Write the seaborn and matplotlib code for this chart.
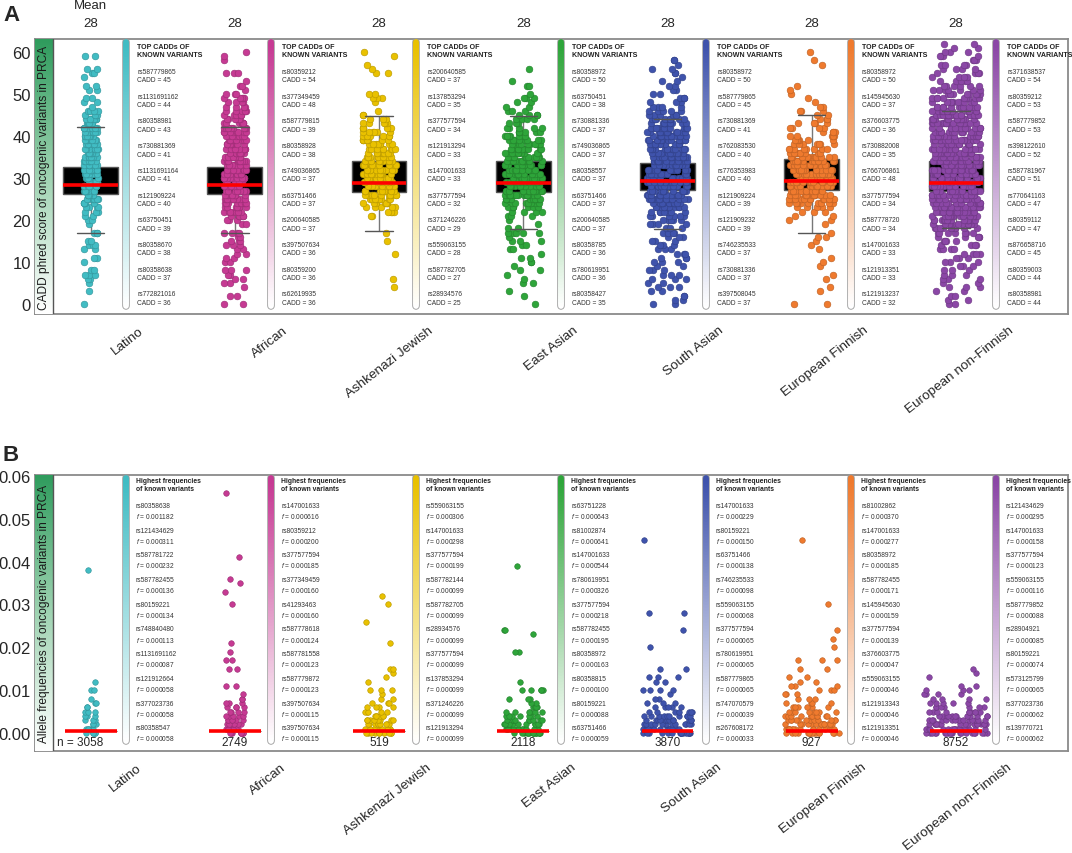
import numpy as np
import pandas as pd
import matplotlib.pyplot as plt
import seaborn as sns
from matplotlib.collections import LineCollection
from matplotlib.colors import to_rgb, LinearSegmentedColormap

# ---------------- data ----------------
populations = ["Latino", "African", "Ashkenazi Jewish", "East Asian",
               "South Asian", "European Finnish", "European non-Finnish"]
pop_colors = ["#41bcc3", "#c63a93", "#e9c100", "#2ea53a",
              "#3f53ac", "#ef7a2e", "#8b47a6"]
sample_sizes = [3058, 2749, 519, 2118, 3870, 927, 8752]
mean_cadd = [28, 28, 28, 28, 28, 28, 28]

# panel A: visible dots at each whole CADD score 0..62
cadd_levels = list(range(63))
latino_cadd = [1, 0, 0, 1, 0, 1, 2, 3, 2, 0, 1, 2, 0, 2, 3, 2, 0, 3, 0, 1,
               2, 2, 3, 4, 5, 7, 8, 8, 8, 8, 8, 8, 8, 7, 7, 7, 7, 7, 7, 7,
               7, 7, 7, 6, 6, 5, 4, 1, 2, 2, 0, 2, 2, 0, 1, 2, 2, 0, 0, 2,
               0, 0, 0]
african_cadd = [2, 0, 2, 0, 1, 2, 2, 2, 3, 0, 2, 2, 2, 2, 3, 3, 2, 4, 0, 2,
                3, 5, 7, 8, 9, 10, 10, 10, 10, 10, 10, 10, 10, 10, 9, 9, 9, 9, 9, 9,
                9, 8, 8, 8, 7, 6, 5, 4, 4, 5, 3, 1, 2, 1, 0, 3, 0, 0, 1, 1,
                1, 0, 0]
ashkenazi_cadd = [0, 0, 0, 0, 1, 0, 1, 0, 0, 0, 0, 0, 1, 0, 0, 1, 0, 1, 0, 0,
                  0, 2, 4, 5, 7, 9, 10, 10, 10, 10, 10, 10, 10, 10, 9, 8, 8, 8, 8, 7,
                  7, 6, 6, 5, 3, 2, 1, 0, 1, 3, 2, 0, 0, 0, 0, 2, 1, 1, 0, 1,
                  1, 0, 0]
east_asian_cadd = [1, 0, 1, 1, 0, 2, 1, 1, 2, 1, 2, 2, 1, 2, 2, 3, 1, 5, 2, 1,
                   1, 3, 4, 6, 9, 12, 13, 13, 13, 13, 13, 13, 13, 13, 12, 11, 10, 10, 9, 8,
                   7, 6, 5, 4, 4, 4, 3, 2, 2, 3, 1, 0, 2, 1, 0, 0, 1, 0, 0, 0,
                   0, 0, 0]
south_asian_cadd = [2, 2, 2, 2, 3, 2, 3, 3, 3, 2, 3, 3, 3, 3, 3, 3, 3, 4, 3, 4,
                    5, 6, 8, 11, 13, 14, 14, 14, 14, 14, 14, 14, 14, 14, 14, 14, 14, 14, 14, 13,
                    13, 12, 11, 10, 8, 6, 5, 4, 3, 3, 2, 2, 2, 2, 1, 2, 2, 1, 2, 0,
                    0, 0, 0]
finnish_cadd = [2, 0, 0, 1, 1, 0, 1, 1, 0, 1, 1, 1, 0, 1, 1, 1, 2, 1, 0, 1,
                2, 2, 3, 5, 9, 12, 14, 14, 14, 14, 14, 14, 14, 14, 13, 12, 10, 8, 7, 6,
                5, 4, 4, 4, 3, 2, 3, 2, 1, 1, 1, 1, 1, 0, 0, 0, 0, 1, 1, 0,
                1, 0, 0]
non_finnish_cadd = [2, 2, 2, 2, 3, 2, 3, 3, 3, 3, 3, 3, 4, 4, 4, 4, 5, 7, 10, 13,
                    16, 16, 16, 16, 16, 16, 16, 16, 16, 16, 16, 16, 16, 16, 16, 16, 16, 16, 16, 16,
                    16, 16, 16, 16, 16, 15, 14, 12, 10, 9, 8, 7, 6, 5, 4, 4, 4, 4, 3, 4,
                    3, 2, 2]

# box summaries: lower whisker, q1, mean line, q3, upper whisker
latino_box = [16.9, 26.2, 28.3, 32.6, 42.1]
african_box = [16.9, 26.2, 28.3, 32.6, 42.1]
ashkenazi_box = [17.4, 26.7, 28.8, 34.0, 44.8]
east_asian_box = [17.9, 26.7, 28.8, 34.0, 44.8]
south_asian_box = [17.9, 27.1, 29.3, 33.5, 44.0]
finnish_box = [16.9, 27.1, 29.3, 34.5, 45.0]
non_finnish_box = [18.0, 27.0, 28.8, 34.0, 46.0]

# panel B: allele frequency levels (per mille) and visible dots at each
latino_af = [0, 1, 2, 3, 4, 5, 6, 7, 8, 10, 12, 38]
latino_af_n = [5, 5, 4, 3, 3, 3, 2, 2, 1, 2, 1, 1]
african_af = [0, 1, 2, 3, 4, 5, 6, 7, 8, 9, 11, 15, 17, 19, 21, 30, 33, 35, 36, 41, 56]
african_af_n = [8, 8, 7, 6, 5, 4, 4, 3, 2, 1, 2, 2, 2, 1, 1, 1, 1, 1, 1, 1, 1]
ashkenazi_af = [0, 1, 2, 3, 4, 5, 6, 7, 8, 9, 10, 12, 13, 14, 15, 21, 26, 30, 32]
ashkenazi_af_n = [10, 10, 9, 8, 6, 5, 4, 3, 2, 1, 3, 1, 1, 1, 2, 1, 1, 1, 1]
east_asian_af = [0, 1, 2, 3, 4, 5, 6, 7, 8, 10, 12, 19, 23, 24, 39]
east_asian_af_n = [14, 14, 12, 10, 8, 6, 4, 2, 3, 5, 1, 2, 1, 2, 1]
south_asian_af = [0, 1, 2, 3, 4, 5, 6, 7, 8, 9, 10, 12, 13, 15, 20, 24, 28, 45]
south_asian_af_n = [16, 16, 14, 12, 10, 7, 5, 3, 2, 1, 4, 2, 3, 2, 1, 1, 2, 1]
finnish_af = [0, 1, 2, 3, 4, 5, 6, 7, 8, 9, 10, 11, 12, 13, 15, 17, 20, 22, 24, 30, 45]
finnish_af_n = [16, 16, 15, 13, 11, 8, 6, 4, 3, 3, 3, 3, 2, 2, 2, 3, 1, 1, 1, 1, 1]
non_finnish_af = [0, 1, 2, 3, 4, 5, 6, 7, 8, 9, 10, 11, 13, 14, 15]
non_finnish_af_n = [20, 20, 18, 16, 13, 10, 7, 5, 4, 4, 3, 2, 1, 1, 1]
mean_af = [0.0005, 0.0005, 0.0005, 0.0005, 0.0005, 0.0005, 0.0005]

# top CADD known variants (panel A side lists)
latino_top = ["rs587779865", "rs1131691162", "rs80358981", "rs730881369", "rs1131691164",
              "rs121909224", "rs63750451", "rs80358670", "rs80358638", "rs772821016"]
latino_top_cadd = [45, 44, 43, 41, 41, 40, 39, 38, 37, 36]
african_top = ["rs80359212", "rs377349459", "rs587779815", "rs80358928", "rs749036865",
               "rs63751466", "rs200640585", "rs397507634", "rs80359200", "rs62619935"]
african_top_cadd = [54, 48, 39, 38, 37, 37, 37, 36, 36, 36]
ashkenazi_top = ["rs200640585", "rs137853294", "rs377577594", "rs121913294", "rs147001633",
                 "rs377577594", "rs371246226", "rs559063155", "rs587782705", "rs28934576"]
ashkenazi_top_cadd = [37, 35, 34, 33, 33, 32, 29, 28, 27, 25]
east_asian_top = ["rs80358972", "rs63750451", "rs730881336", "rs749036865", "rs80358557",
                  "rs63751466", "rs200640585", "rs80358785", "rs780619951", "rs80358427"]
east_asian_top_cadd = [50, 38, 37, 37, 37, 37, 37, 36, 36, 35]
south_asian_top = ["rs80358972", "rs587779865", "rs730881369", "rs762083530", "rs776353983",
                   "rs121909224", "rs121909232", "rs746235533", "rs730881336", "rs397508045"]
south_asian_top_cadd = [50, 45, 41, 40, 40, 39, 39, 37, 37, 37]
finnish_top = ["rs80358972", "rs145945630", "rs376603775", "rs730882008", "rs766706861",
               "rs377577594", "rs587778720", "rs147001633", "rs121913351", "rs121913237"]
finnish_top_cadd = [50, 37, 36, 35, 48, 34, 34, 33, 33, 32]
non_finnish_top = ["rs371638537", "rs80359212", "rs587779852", "rs398122610", "rs587781967",
                   "rs770641163", "rs80359112", "rs876658716", "rs80359003", "rs80358981"]
non_finnish_top_cadd = [54, 53, 53, 52, 51, 47, 47, 45, 44, 44]

# highest frequency known variants (panel B side lists)
latino_freq = ["rs80358638", "rs121434629", "rs587781722", "rs587782455", "rs80159221",
               "rs748840480", "rs1131691162", "rs121912664", "rs377023736", "rs80358547"]
latino_freq_f = ["0.001182", "0.000311", "0.000232", "0.000136", "0.000134",
                 "0.000113", "0.000087", "0.000058", "0.000058", "0.000058"]
african_freq = ["rs147001633", "rs80359212", "rs377577594", "rs377349459", "rs41293463",
                "rs587778618", "rs587781558", "rs587779872", "rs397507634", "rs397507634"]
african_freq_f = ["0.000616", "0.000200", "0.000185", "0.000160", "0.000160",
                  "0.000124", "0.000123", "0.000123", "0.000115", "0.000115"]
ashkenazi_freq = ["rs559063155", "rs147001633", "rs377577594", "rs587782144", "rs587782705",
                  "rs28934576", "rs377577594", "rs137853294", "rs371246226", "rs121913294"]
ashkenazi_freq_f = ["0.000306", "0.000298", "0.000199", "0.000099", "0.000099",
                    "0.000099", "0.000099", "0.000099", "0.000099", "0.000099"]
east_asian_freq = ["rs63751228", "rs81002874", "rs147001633", "rs780619951", "rs377577594",
                   "rs587782455", "rs80358972", "rs80358815", "rs80159221", "rs63751466"]
east_asian_freq_f = ["0.000643", "0.000641", "0.000544", "0.000326", "0.000218",
                     "0.000195", "0.000163", "0.000100", "0.000088", "0.000059"]
south_asian_freq = ["rs147001633", "rs80159221", "rs63751466", "rs746235533", "rs559063155",
                    "rs377577594", "rs780619951", "rs587779865", "rs747070579", "rs267608172"]
south_asian_freq_f = ["0.000229", "0.000150", "0.000138", "0.000098", "0.000068",
                      "0.000065", "0.000065", "0.000065", "0.000039", "0.000033"]
finnish_freq = ["rs81002862", "rs147001633", "rs80358972", "rs587782455", "rs145945630",
                "rs377577594", "rs376603775", "rs559063155", "rs121913343", "rs121913351"]
finnish_freq_f = ["0.000370", "0.000277", "0.000185", "0.000171", "0.000159",
                  "0.000139", "0.000047", "0.000046", "0.000046", "0.000046"]
non_finnish_freq = ["rs121434629", "rs147001633", "rs377577594", "rs559063155", "rs587779852",
                    "rs28904921", "rs80159221", "rs573125799", "rs377023736", "rs139770721"]
non_finnish_freq_f = ["0.000295", "0.000158", "0.000123", "0.000116", "0.000088",
                      "0.000085", "0.000074", "0.000065", "0.000062", "0.000062"]

# ---------------- tables ----------------
cadd_counts = [latino_cadd, african_cadd, ashkenazi_cadd, east_asian_cadd,
               south_asian_cadd, finnish_cadd, non_finnish_cadd]
cadd_boxes = [latino_box, african_box, ashkenazi_box, east_asian_box,
              south_asian_box, finnish_box, non_finnish_box]
af_levels = [latino_af, african_af, ashkenazi_af, east_asian_af,
             south_asian_af, finnish_af, non_finnish_af]
af_counts = [latino_af_n, african_af_n, ashkenazi_af_n, east_asian_af_n,
             south_asian_af_n, finnish_af_n, non_finnish_af_n]
top_ids = [latino_top, african_top, ashkenazi_top, east_asian_top,
           south_asian_top, finnish_top, non_finnish_top]
top_cadd = [latino_top_cadd, african_top_cadd, ashkenazi_top_cadd, east_asian_top_cadd,
            south_asian_top_cadd, finnish_top_cadd, non_finnish_top_cadd]
freq_ids = [latino_freq, african_freq, ashkenazi_freq, east_asian_freq,
            south_asian_freq, finnish_freq, non_finnish_freq]
freq_f = [latino_freq_f, african_freq_f, ashkenazi_freq_f, east_asian_freq_f,
          south_asian_freq_f, finnish_freq_f, non_finnish_freq_f]

cadd_df = pd.concat([pd.DataFrame({"population": p, "cadd": np.repeat(cadd_levels, c)})
                     for p, c in zip(populations, cadd_counts)], ignore_index=True)
cadd_box_df = pd.DataFrame({"population": np.repeat(populations, 5),
                            "cadd": np.concatenate(cadd_boxes)})
af_df = pd.concat([pd.DataFrame({"population": p, "af": np.repeat(lv, c) * 0.001})
                   for p, lv, c in zip(populations, af_levels, af_counts)], ignore_index=True)
af_box_df = pd.DataFrame({"population": np.repeat(populations, 5),
                          "af": np.repeat(mean_af, 5)})

# ---------------- style ----------------
sns.set_style("white")
plt.rcParams["font.family"] = ["Liberation Sans", "DejaVu Sans"]
plt.rcParams["mathtext.fontset"] = "custom"
plt.rcParams["mathtext.it"] = "Liberation Sans:italic"
plt.rcParams["mathtext.rm"] = "Liberation Sans"

# half-width of the jittered strips (category units)
jitter_a = [0.05, 0.08, 0.115, 0.13, 0.14, 0.16, 0.17]
jitter_b = [0.04, 0.07, 0.1, 0.135, 0.17, 0.19, 0.22]

W, H = 1072, 854
fig = plt.figure(figsize=(W / 100, H / 100), dpi=100)


def add_panel(top, bottom):
    return fig.add_axes([35 / W, 1 - bottom / H, 1033 / W, (bottom - top) / H])


def darker(c, f=0.8):
    return tuple(v * f for v in to_rgb(c))


def side_bar(ax, xf, y0, y1, color):
    # rounded colour bar fading from the population colour to white
    ax.plot([xf, xf], [y0, y1], transform=ax.transAxes, color="#9a9a9a", lw=5.4,
            solid_capstyle="round", zorder=5, clip_on=False)
    ys = np.linspace(y0, y1, 90)
    segs = [[(xf, ys[k]), (xf, ys[k + 1])] for k in range(len(ys) - 1)]
    rgb = np.array(to_rgb(color))
    t = np.linspace(0, 1, len(segs))[:, None]
    cols = (1 - t) * np.array([1, 1, 1]) + t * rgb
    ax.add_collection(LineCollection(segs, colors=cols, linewidths=4.2, capstyle="round",
                                     transform=ax.transAxes, zorder=6, clip_on=False))


def label_box(ax, text):
    lab = ax.inset_axes([0, 0, 18 / 1033, 1])
    cmap = LinearSegmentedColormap.from_list("g", ["#ffffff", "#9fd3b2", "#2f9c5d"])
    lab.imshow(np.linspace(0, 1, 200)[:, None], aspect="auto", cmap=cmap,
               origin="lower", extent=[0, 1, 0, 1])
    lab.set_axis_off()
    lab.text(0.5, 0.5, text, rotation=90, ha="center", va="center", fontsize=8.6,
             color="#1a1a1a", transform=lab.transAxes)
    ax.plot([18 / 1033] * 2, [0, 1], transform=ax.transAxes, color="#555555", lw=1, zorder=7)


def frame(ax, ylim, yticks, fmt):
    ax.set_ylim(*ylim)
    ax.set_yticks(yticks, [fmt.format(v) for v in yticks])
    ax.tick_params(axis="y", length=0, pad=3, labelsize=12)
    ax.set_xlabel("")
    ax.set_ylabel("")
    for s in ax.spines.values():
        s.set_color("#8a8a8a")
        s.set_linewidth(1.3)


def pop_labels(ax, anchor_px, pad):
    x0, x1 = ax.get_xlim()
    ticks = [x0 + (px - 35) / 1033 * (x1 - x0) for px in anchor_px]
    ax.set_xticks(ticks, populations, rotation=38, ha="right",
                  rotation_mode="anchor", fontsize=9.7)
    ax.tick_params(axis="x", length=0, pad=pad)


# ---------------- panel A ----------------
axA = add_panel(40, 315)
sns.boxplot(data=cadd_box_df, x="population", y="cadd", order=populations,
            whis=(0, 100), width=0.38, color="black", linecolor="#555555",
            linewidth=1, saturation=1, showfliers=False,
            boxprops=dict(zorder=1),
            whiskerprops=dict(color="#777777", zorder=1),
            capprops=dict(color="#555555", zorder=3),
            medianprops=dict(color="red", linewidth=2.6, zorder=4), ax=axA)
for pop, col, jit in zip(populations, pop_colors, jitter_a):
    sns.stripplot(data=cadd_df[cadd_df["population"] == pop], x="population", y="cadd",
                  order=populations, color=col, edgecolor=darker(col), linewidth=0.45,
                  size=4.8, jitter=jit, zorder=2, ax=axA)
axA.set_xlim(-0.386, 6.777)
frame(axA, (-2.4, 63.1), [0, 10, 20, 30, 40, 50, 60], "{:d}")
pop_labels(axA, [138 + 145 * i for i in range(7)], 7)
label_box(axA, "CADD phred score of oncogenic variants in PRCA")

hA = 275
for i, (col, ids, vals) in enumerate(zip(pop_colors, top_ids, top_cadd)):
    bar_px = 126 + 145 * i
    side_bar(axA, (bar_px - 35) / 1033, (315 - 307) / hA, (315 - 43) / hA, col)
    tx = (bar_px + 11 - 35) / 1033
    axA.text(tx, (315 - 44) / hA, "TOP CADDs OF\nKNOWN VARIANTS", transform=axA.transAxes,
             fontsize=5.1, fontweight="bold", color="#222222", va="top", ha="left",
             linespacing=1.25)
    for k, (rid, v) in enumerate(zip(ids, vals)):
        axA.text(tx, (315 - (69 + 24.7 * k)) / hA, f"{rid}\nCADD = {v}",
                 transform=axA.transAxes, fontsize=4.8, color="#333333",
                 va="top", ha="left", linespacing=1.3)
    axA.text(i, 1 + 16 / hA, str(mean_cadd[i]), transform=axA.get_xaxis_transform(),
             ha="center", va="center", fontsize=9.5)
axA.text(0, 1 + 34 / hA, "Mean", transform=axA.get_xaxis_transform(),
         ha="center", va="center", fontsize=9.5)

# ---------------- panel B ----------------
axB = add_panel(476, 752)
sns.boxplot(data=af_box_df, x="population", y="af", order=populations,
            whis=(0, 100), width=0.36, color="black", linecolor="black",
            linewidth=0.5, saturation=1, showfliers=False,
            medianprops=dict(color="red", linewidth=2.6, zorder=4), ax=axB)
for pop, col, jit in zip(populations, pop_colors, jitter_b):
    sns.stripplot(data=af_df[af_df["population"] == pop], x="population", y="af",
                  order=populations, color=col, edgecolor=darker(col), linewidth=0.45,
                  size=4.0, jitter=jit, zorder=2, ax=axB)
axB.set_xlim(-0.386, 6.777)
frame(axB, (-0.0042, 0.0602), [0, 0.01, 0.02, 0.03, 0.04, 0.05, 0.06], "{:.2f}")
pop_labels(axB, [136 + 145 * i for i in range(7)], 7)
label_box(axB, "Allele frequencies of oncogenic variants in PRCA")

hB = 276
for i, (col, ids, vals) in enumerate(zip(pop_colors, freq_ids, freq_f)):
    bar_px = 126 + 145 * i
    side_bar(axB, (bar_px - 35) / 1033, (752 - 742) / hB, (752 - 479) / hB, col)
    tx = (bar_px + 10 - 35) / 1033
    axB.text(tx, (752 - 478) / hB, "Highest frequencies\nof known variants",
             transform=axB.transAxes, fontsize=4.9, fontweight="bold", color="#222222",
             va="top", ha="left", linespacing=1.25)
    for k, (rid, v) in enumerate(zip(ids, vals)):
        axB.text(tx, (752 - (503 + 24.7 * k)) / hB, f"{rid}\n$f$ = {v}",
                 transform=axB.transAxes, fontsize=4.8, color="#333333",
                 va="top", ha="left", linespacing=1.3)
    n_txt = f"n = {sample_sizes[i]}" if i == 0 else str(sample_sizes[i])
    axB.text(i - (0.07 if i == 0 else 0), (752 - 743) / hB, n_txt,
             transform=axB.get_xaxis_transform(), ha="center", va="center", fontsize=8.5)

fig.text(3 / W, 1 - 5 / H, "A", fontsize=16, fontweight="bold", va="top", ha="left")
fig.text(3 / W, 1 - 445 / H, "B", fontsize=16, fontweight="bold", va="top", ha="left")

fig.savefig("out.png", dpi=100)
